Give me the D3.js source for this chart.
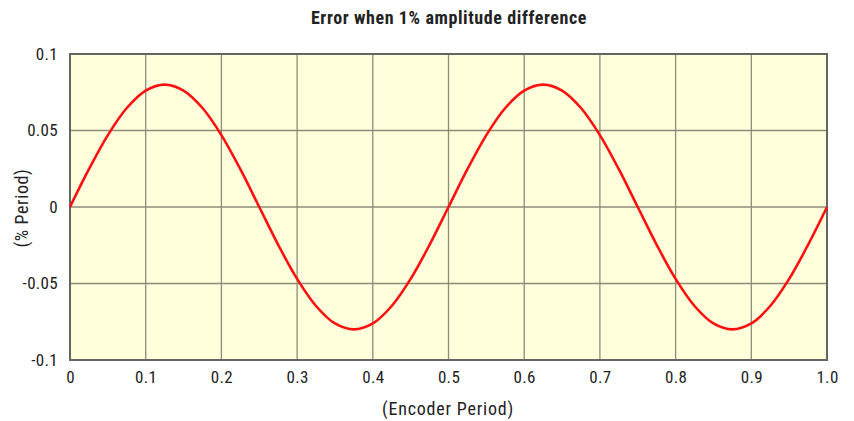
<!DOCTYPE html>
<html>
<head>
<meta charset="utf-8">
<script src="https://cdn.jsdelivr.net/npm/d3@7"></script>
<style>
  html, body { margin: 0; padding: 0; background: #fff; }
  text { font-family: "Liberation Sans Narrow", "Roboto Condensed", "Liberation Sans", sans-serif; fill: #222; }
</style>
</head>
<body>
<svg id="chart" width="854" height="421"></svg>
<script>
// Encoder period positions (fraction of one period)
const xValues = [0, 0.025, 0.05, 0.075, 0.1, 0.125, 0.15, 0.175, 0.2, 0.225, 0.25,
  0.275, 0.3, 0.325, 0.35, 0.375, 0.4, 0.425, 0.45, 0.475, 0.5,
  0.525, 0.55, 0.575, 0.6, 0.625, 0.65, 0.675, 0.7, 0.725, 0.75,
  0.775, 0.8, 0.825, 0.85, 0.875, 0.9, 0.925, 0.95, 0.975, 1.0];
// Interpolation error (% period)
const errValues = [0, 0.0247, 0.047, 0.0647, 0.0761, 0.08, 0.0761, 0.0647, 0.047, 0.0247, 0,
  -0.0247, -0.047, -0.0647, -0.0761, -0.08, -0.0761, -0.0647, -0.047, -0.0247, 0,
  0.0247, 0.047, 0.0647, 0.0761, 0.08, 0.0761, 0.0647, 0.047, 0.0247, 0,
  -0.0247, -0.047, -0.0647, -0.0761, -0.08, -0.0761, -0.0647, -0.047, -0.0247, 0];
const xTicks = [0, 0.1, 0.2, 0.3, 0.4, 0.5, 0.6, 0.7, 0.8, 0.9, 1.0];
const xTickLabels = ["0", "0.1", "0.2", "0.3", "0.4", "0.5", "0.6", "0.7", "0.8", "0.9", "1.0"];
const yTicks = [-0.1, -0.05, 0, 0.05, 0.1];
const yTickLabels = ["-0.1", "-0.05", "0", "0.05", "0.1"];

const svg = d3.select("#chart");
const plotL = 70, plotR = 827, plotT = 54, plotB = 360;

const x = d3.scaleLinear().domain([0, 1]).range([plotL, plotR]);
const y = d3.scaleLinear().domain([-0.1, 0.1]).range([plotB, plotT]);

// plot background
svg.append("rect")
  .attr("x", plotL).attr("y", plotT)
  .attr("width", plotR - plotL).attr("height", plotB - plotT)
  .attr("fill", "#ffffdc");

// grid lines
const grid = svg.append("g").attr("stroke", "#8c8c78").attr("stroke-width", 1.3);
xTicks.slice(1, -1).forEach(v => {
  grid.append("line").attr("x1", x(v)).attr("x2", x(v)).attr("y1", plotT).attr("y2", plotB);
});
yTicks.slice(1, -1).forEach(v => {
  grid.append("line").attr("x1", plotL).attr("x2", plotR).attr("y1", y(v)).attr("y2", y(v));
});

// frame
svg.append("rect")
  .attr("x", plotL).attr("y", plotT)
  .attr("width", plotR - plotL).attr("height", plotB - plotT)
  .attr("fill", "none").attr("stroke", "#666660").attr("stroke-width", 2);

// axes
const xAxis = d3.axisBottom(x).tickValues(xTicks)
  .tickFormat((d, i) => xTickLabels[i]).tickSize(0).tickPadding(11);
svg.append("g").attr("transform", `translate(0,${plotB})`).call(xAxis)
  .call(g => g.select(".domain").remove())
  .selectAll("text").attr("font-size", 17).attr("letter-spacing", 0.3).style("fill", "#222");

const yAxis = d3.axisLeft(y).tickValues(yTicks)
  .tickFormat((d, i) => yTickLabels[i]).tickSize(0).tickPadding(12);
svg.append("g").attr("transform", `translate(${plotL},0)`).call(yAxis)
  .call(g => g.select(".domain").remove())
  .selectAll("text").attr("font-size", 17).attr("letter-spacing", 0.3).style("fill", "#222");

// error curve
const line = d3.line()
  .x((d, i) => x(xValues[i]))
  .y(d => y(d))
  .curve(d3.curveCatmullRom.alpha(0.5));
svg.append("path")
  .datum(errValues)
  .attr("d", line)
  .attr("fill", "none")
  .attr("stroke", "#ff1010")
  .attr("stroke-width", 2.6);

// title and axis labels
svg.append("text")
  .attr("x", 449).attr("y", 24)
  .attr("text-anchor", "middle")
  .attr("font-size", 18).attr("font-weight", "bold")
  .attr("letter-spacing", 0.6)
  .text("Error when 1% amplitude difference");

svg.append("text")
  .attr("x", 448).attr("y", 415)
  .attr("text-anchor", "middle")
  .attr("font-size", 18)
  .attr("letter-spacing", 0.8)
  .text("(Encoder Period)");

svg.append("text")
  .attr("transform", `translate(28,208) rotate(-90)`)
  .attr("text-anchor", "middle")
  .attr("font-size", 18)
  .attr("letter-spacing", 0.6)
  .text("(% Period)");
</script>
</body>
</html>
